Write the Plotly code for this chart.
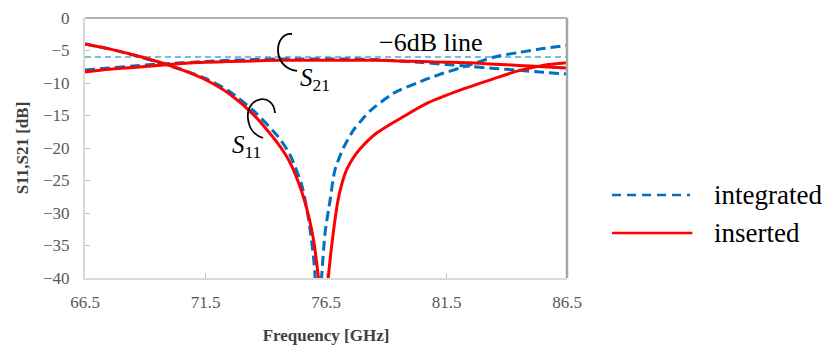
import plotly.graph_objects as go

# ---------------- data ----------------
freq_s11_integrated = [66.5, 67.5, 68.5, 69.5, 70.5, 71.5, 72.5, 73.5, 74.5, 75.0, 75.5, 75.8,
                       76.0, 76.1, 76.18, 76.25, 76.32, 76.46, 76.67, 76.87, 77.22, 77.63, 78.0,
                       78.33, 79.29, 80.4, 81.2, 82.06, 83.5, 84.5, 85.5, 86.5]
s11_integrated = [-4.0, -4.75, -5.7, -6.8, -7.9, -9.3, -11.3, -14.3, -18.2, -21.0, -25.8, -31.5,
                  -37.5, -43.0, -50.0, -44.0, -39.8, -33.1, -28.0, -23.4, -20.0, -17.3, -15.6,
                  -14.3, -11.6, -9.8, -8.7, -7.7, -6.0, -5.3, -4.7, -4.2]

freq_s11_inserted = [66.5, 67.5, 68.5, 69.5, 70.5, 71.5, 72.5, 73.5, 74.5, 75.0, 75.5, 75.8,
                     76.0, 76.1, 76.2, 76.3, 76.4, 76.5, 76.6, 76.8, 77.0, 77.15, 77.35, 77.6,
                     77.9, 78.6, 79.7, 80.7, 82.06, 83.5, 84.5, 85.5, 86.5]
s11_inserted = [-4.0, -4.75, -5.65, -6.7, -7.95, -9.5, -11.7, -14.9, -19.3, -22.2, -26.8, -30.8,
                -34.5, -37.3, -40.5, -45.0, -50.0, -45.0, -39.8, -33.1, -28.0, -25.6, -23.4, -21.7,
                -20.2, -17.7, -15.2, -13.1, -11.1, -9.3, -8.1, -7.3, -6.9]

freq_s21 = [66.5, 67.5, 68.5, 69.5, 70.5, 71.5, 72.5, 73.5, 74.5, 75.5, 76.5,
            77.5, 78.5, 79.5, 80.5, 81.5, 82.5, 83.5, 84.5, 85.5, 86.5]
s21_integrated = [-8.0, -7.7, -7.4, -7.1, -6.9, -6.7, -6.5, -6.4, -6.3, -6.3, -6.3,
                  -6.3, -6.4, -6.6, -6.85, -7.15, -7.45, -7.75, -8.05, -8.35, -8.6]
s21_inserted = [-8.3, -7.9, -7.6, -7.3, -7.0, -6.8, -6.7, -6.6, -6.5, -6.5, -6.5,
                -6.5, -6.5, -6.6, -6.7, -6.8, -6.9, -7.1, -7.3, -7.5, -7.7]

ref_freq = [66.5, 86.5]
ref_level = [-6, -6]

x_ticks = [66.5, 71.5, 76.5, 81.5, 86.5]
y_ticks = [0, -5, -10, -15, -20, -25, -30, -35, -40]

BLUE = "#0070C0"
RED = "#FF0000"
AQUA = "#4BACC6"
SERIF = "Liberation Serif"

fig = go.Figure()

fig.add_trace(go.Scatter(x=ref_freq, y=ref_level, mode="lines",
                         line=dict(color=AQUA, width=1.5, dash="6px,4px"),
                         showlegend=False, hoverinfo="skip"))
for xs, ys in [(freq_s11_integrated, s11_integrated), (freq_s21, s21_integrated)]:
    fig.add_trace(go.Scatter(x=xs, y=ys, mode="lines",
                             line=dict(color=BLUE, width=3, dash="10px,5px", shape="spline", smoothing=0.7),
                             showlegend=False))
for xs, ys in [(freq_s11_inserted, s11_inserted), (freq_s21, s21_inserted)]:
    fig.add_trace(go.Scatter(x=xs, y=ys, mode="lines",
                             line=dict(color=RED, width=3, shape="spline", smoothing=0.7),
                             showlegend=False))

shapes = []
# frame top/right
shapes.append(dict(type="line", xref="paper", yref="paper", x0=0, x1=1, y0=1, y1=1,
                   line=dict(color="#B4B4B4", width=2)))
shapes.append(dict(type="line", xref="paper", yref="paper", x0=1, x1=1, y0=0, y1=1,
                   line=dict(color="#A6A6A6", width=2.5)))
# annotation arcs
shapes.append(dict(type="path", xref="x", yref="y",
                   path="M 75.09,-2.46 C 74.34,-2.15 74.22,-7.69 75.30,-8.15",
                   line=dict(color="black", width=1.8)))
shapes.append(dict(type="path", xref="x", yref="y",
                   path="M 74.38,-14.62 C 74.34,-11.38 73.18,-12.0 73.26,-15.38 C 73.30,-17.23 73.60,-18.15 73.89,-18.46",
                   line=dict(color="black", width=1.8)))
# custom legend
shapes.append(dict(type="line", xref="paper", yref="paper", x0=1.0934, x1=1.2552, y0=0.3192, y1=0.3192,
                   line=dict(color=BLUE, width=2.5, dash="9px,6px")))
shapes.append(dict(type="line", xref="paper", yref="paper", x0=1.0934, x1=1.2600, y0=0.1731, y1=0.1731,
                   line=dict(color=RED, width=2.5)))

annotations = [
    dict(x=1.3008, y=0.3192, xref="paper", yref="paper", text="integrated", showarrow=False,
         xanchor="left", yanchor="middle", font=dict(family=SERIF, size=27, color="black")),
    dict(x=1.3008, y=0.1731, xref="paper", yref="paper", text="inserted", showarrow=False,
         xanchor="left", yanchor="middle", font=dict(family=SERIF, size=27, color="black")),
    dict(x=80.86, y=-3.7, xref="x", yref="y", text="\u22126dB line", showarrow=False,
         xanchor="center", yanchor="middle", font=dict(family=SERIF, size=26, color="black")),
    dict(x=75.35, y=-9.4, xref="x", yref="y", text="<i>S</i><sub>21</sub>", showarrow=False,
         xanchor="left", yanchor="middle", font=dict(family=SERIF, size=25, color="black")),
    dict(x=72.5, y=-19.8, xref="x", yref="y", text="<i>S</i><sub>11</sub>", showarrow=False,
         xanchor="left", yanchor="middle", font=dict(family=SERIF, size=25, color="black")),
]

# page body has an 8px margin: figure is 822x339 so that the plot lands where the reference has it
fig.update_layout(
    width=822, height=339,
    margin=dict(l=77, r=263, t=10, b=69),
    paper_bgcolor="white", plot_bgcolor="white",
    shapes=shapes, annotations=annotations,
    showlegend=False,
    font=dict(family=SERIF, color="#595959"),
)
fig.update_xaxes(range=[66.5, 86.5], tickvals=x_ticks, ticktext=[str(v) for v in x_ticks],
                 automargin=False,
                 showgrid=False, zeroline=False, showline=True, linecolor="#D9D9D9", linewidth=2,
                 ticks="inside", ticklen=5, tickcolor="#BFBFBF", tickfont=dict(family=SERIF, size=17, color="#595959"),
                 ticklabelstandoff=8,
                 title=dict(text="<b>Frequency [GHz]</b>", font=dict(family=SERIF, size=17, color="#404040"),
                            standoff=18))
fig.update_yaxes(range=[-40, 0], tickvals=y_ticks,
                 automargin=False,
                 showgrid=False, zeroline=False, showline=True, linecolor="#D9D9D9", linewidth=2,
                 ticks="inside", ticklen=5, tickcolor="#BFBFBF", tickfont=dict(family=SERIF, size=17, color="#595959"),
                 ticklabelstandoff=10,
                 title=dict(text="<b>S11,S21 [dB]</b>", font=dict(family=SERIF, size=17, color="#404040"),
                            standoff=10))

fig.write_html("out.html")
